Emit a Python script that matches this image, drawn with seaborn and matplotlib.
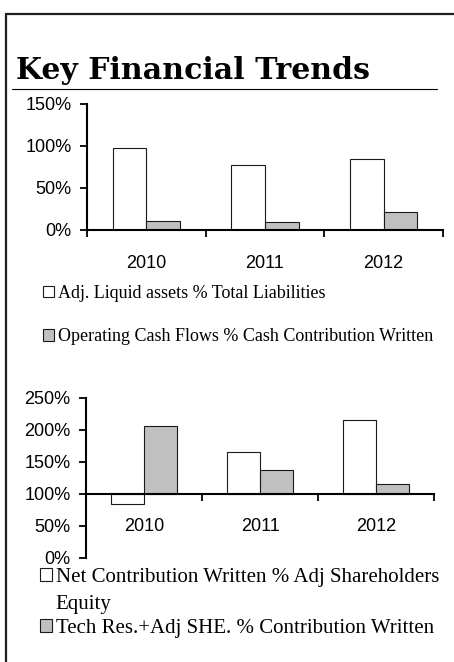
import matplotlib
matplotlib.use("Agg")
import matplotlib.pyplot as plt
from matplotlib.lines import Line2D
from matplotlib.patches import Rectangle
from matplotlib.ticker import FixedLocator, FuncFormatter
import pandas as pd
import seaborn as sns

# --------------------------------------------------------------------------- #
# Data
# --------------------------------------------------------------------------- #
years = ["2010", "2011", "2012"]

top_labels = [
    "Adj. Liquid assets % Total Liabilities",
    "Operating Cash Flows % Cash Contribution Written",
]
liquid_pct = [98, 77, 85]
ocf_pct = [11, 10, 21]

bottom_labels = [
    "Net Contribution Written % Adj Shareholders",
    "Tech Res.+Adj SHE. % Contribution Written",
]
bottom_label_wrap = "Equity"  # second line of the first lower legend entry
ncw_pct = [84, 166, 215]
techres_pct = [206, 138, 115]
bottom_base = 100  # lower chart's bars grow from the 100% line

top_ticks = [0, 50, 100, 150]
bottom_ticks = [0, 50, 100, 150, 200, 250]

W, H = 454, 662
BAR_COLORS = ["#ffffff", "#c0c0c0"]
EDGE = "#1a1a1a"


def long_frame(labels, a, b, base=0):
    rows = []
    for lab, vals in zip(labels, (a, b)):
        for yr, v in zip(years, vals):
            rows.append({"year": yr, "series": lab, "value": v - base})
    return pd.DataFrame(rows)


def fx(px):
    return px / W


def fy(px):
    return 1 - px / H


sns.set_style("ticks")
plt.rcParams["font.family"] = ["Liberation Sans", "DejaVu Sans"]
plt.rcParams.update({
    "text.color": "black",
    "xtick.color": "black",
    "ytick.color": "black",
    "axes.edgecolor": "black",
})

fig = plt.figure(figsize=(W / 100, H / 100), dpi=100)
SERIF = "Liberation Serif"


def draw_panel(rect, df, ticks, base, label_pad):
    ax = fig.add_axes(rect)
    sns.barplot(
        data=df, x="year", y="value", hue="series",
        palette=BAR_COLORS, edgecolor=EDGE, linewidth=0.8,
        width=0.57, ax=ax,
    )
    leg = ax.get_legend()
    handles = list(leg.legend_handles)
    labels = [t.get_text() for t in leg.get_texts()]
    leg.remove()

    ax.set_xlim(-0.5, len(years) - 0.5)
    ax.set_ylim(ticks[0] - base, ticks[-1] - base)
    ax.set_yticks([t - base for t in ticks])
    ax.yaxis.set_major_formatter(FuncFormatter(lambda v, _: f"{v + base:.0f}%"))
    ax.set_xlabel("")
    ax.set_ylabel("")

    ax.xaxis.set_minor_locator(FixedLocator([i - 0.5 for i in range(len(years) + 1)]))
    ax.tick_params(axis="x", which="major", length=0, pad=label_pad, labelsize=13)
    ax.tick_params(axis="x", which="minor", length=5, width=1.3, direction="out")
    ax.tick_params(axis="y", length=5, width=1.3, pad=6, labelsize=13)

    for side in ("top", "right"):
        ax.spines[side].set_visible(False)
    for side in ("left", "bottom"):
        ax.spines[side].set_linewidth(1.5)
    ax.spines["bottom"].set_position(("data", 0))
    ax.set_facecolor("none")
    return ax, handles, labels


ax1, h1, l1 = draw_panel(
    [fx(87), fy(230), fx(443) - fx(87), fy(104) - fy(230)],
    long_frame(top_labels, liquid_pct, ocf_pct), top_ticks, 0, 18,
)
ax2, h2, l2 = draw_panel(
    [fx(86), fy(558), fx(434) - fx(86), fy(398) - fy(558)],
    long_frame(bottom_labels, ncw_pct, techres_pct, bottom_base),
    bottom_ticks, bottom_base, 17,
)

fig.legend(
    h1, l1, loc="upper left", bbox_to_anchor=(fx(43), fy(285)),
    frameon=False, borderpad=0, borderaxespad=0,
    handlelength=0.62, handleheight=0.62, handletextpad=0.2,
    labelspacing=1.45, prop={"family": SERIF, "size": 13},
)
fig.legend(
    h2, l2, loc="upper left", bbox_to_anchor=(fx(40), fy(568)),
    frameon=False, borderpad=0, borderaxespad=0,
    handlelength=0.58, handleheight=0.58, handletextpad=0.18,
    labelspacing=1.55, prop={"family": SERIF, "size": 15},
)
fig.text(fx(55), fy(605), bottom_label_wrap, family=SERIF, fontsize=15,
         ha="left", va="center")

# title, rule and page frame
fig.text(fx(16), fy(79), "Key Financial Trends", fontsize=21.6, fontweight="bold",
         family="DejaVu Serif", va="baseline", ha="left")
fig.add_artist(Line2D([fx(12), fx(437)], [fy(89), fy(89)], color="black", lw=0.8))
fig.add_artist(Rectangle((fx(6), -0.1), 1.0, fy(14) + 0.1, transform=fig.transFigure,
                         fill=False, lw=1.6, ec="#222222"))

fig.savefig("out.png", dpi=100)
